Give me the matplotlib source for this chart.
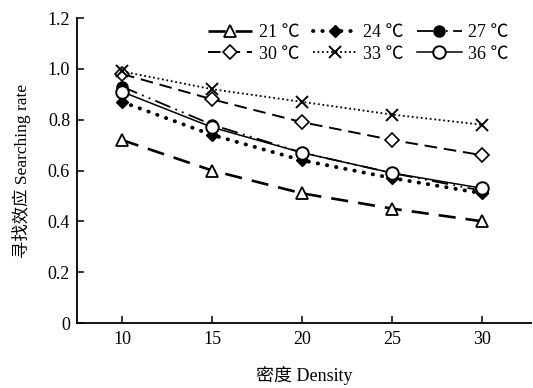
import numpy as np
import matplotlib.pyplot as plt

plt.rcParams['font.family'] = ['Liberation Serif', 'Noto Sans CJK SC']

density = [10, 15, 20, 25, 30]
t21 = [0.72, 0.60, 0.51, 0.45, 0.40]
t24 = [0.87, 0.74, 0.64, 0.57, 0.51]
t27 = [0.93, 0.78, 0.67, 0.59, 0.52]
t30 = [0.98, 0.88, 0.79, 0.72, 0.66]
t33 = [0.99, 0.92, 0.87, 0.82, 0.78]
t36 = [0.91, 0.77, 0.67, 0.59, 0.53]

fig = plt.figure(figsize=(5.33, 3.88), dpi=100)
ax = fig.add_axes([0.1445, 0.1675, 0.852, 0.786])

h21, = ax.plot(density, t21, color='black', lw=1.9, linestyle=(0, (6.5, 3.8)),
               marker='^', ms=8.5, mfc='white', mec='black', mew=1.3, label='21 ℃')
h24, = ax.plot(density, t24, color='black', lw=2.8, linestyle=(0, (0.1, 2.3)), dash_capstyle='round',
               marker='D', ms=6, mfc='black', mec='black', label='24 ℃')
h27, = ax.plot(density, t27, color='black', lw=1.3, linestyle=(0, (9, 3, 1, 3, 1, 3)),
               marker='o', ms=8, mfc='black', mec='black', label='27 ℃')
h30, = ax.plot(density, t30, color='black', lw=1.4, linestyle=(0, (6.5, 3.5)),
               marker='D', ms=7, mfc='white', mec='black', mew=1.2, label='30 ℃')
h33, = ax.plot(density, t33, color='black', lw=1.3, linestyle=(0, (1, 1.5)),
               marker='x', ms=9, mec='black', mew=1.4, label='33 ℃')
h36, = ax.plot(density, t36, color='black', lw=1.1, linestyle='-',
               marker='o', ms=9, mfc='white', mec='black', mew=1.4, label='36 ℃')

ax.set_xlim(7.5, 32.7)
ax.set_ylim(0, 1.2)
ax.set_xticks(density)
ax.set_yticks([0, 0.2, 0.4, 0.6, 0.8, 1.0, 1.2])
ax.set_yticklabels(['0', '0.2', '0.4', '0.6', '0.8', '1.0', '1.2'])
ax.spines['top'].set_visible(False)
ax.spines['right'].set_visible(False)
ax.spines['left'].set_linewidth(1.3)
ax.spines['bottom'].set_linewidth(1.3)
ax.tick_params(direction='in', length=5, width=1.1, labelsize=13)
ax.tick_params(axis='x', pad=6)
ax.tick_params(axis='y', pad=5)
ax.set_xlabel('密度 Density', fontsize=13, labelpad=13)
ax.set_ylabel('寻找效应 Searching rate', fontsize=12.5, labelpad=12)

handles = [h21, h30, h24, h33, h27, h36]
ax.legend(handles=handles, labels=[h.get_label() for h in handles], ncol=3, frameon=False,
          loc='upper left', bbox_to_anchor=(208 / 533, 1 - 24 / 388), bbox_transform=fig.transFigure,
          borderpad=0, borderaxespad=0, fontsize=13,
          handlelength=2.45, columnspacing=0.75, handletextpad=0.35, labelspacing=0.25)

fig.savefig('out.png', dpi=100)
